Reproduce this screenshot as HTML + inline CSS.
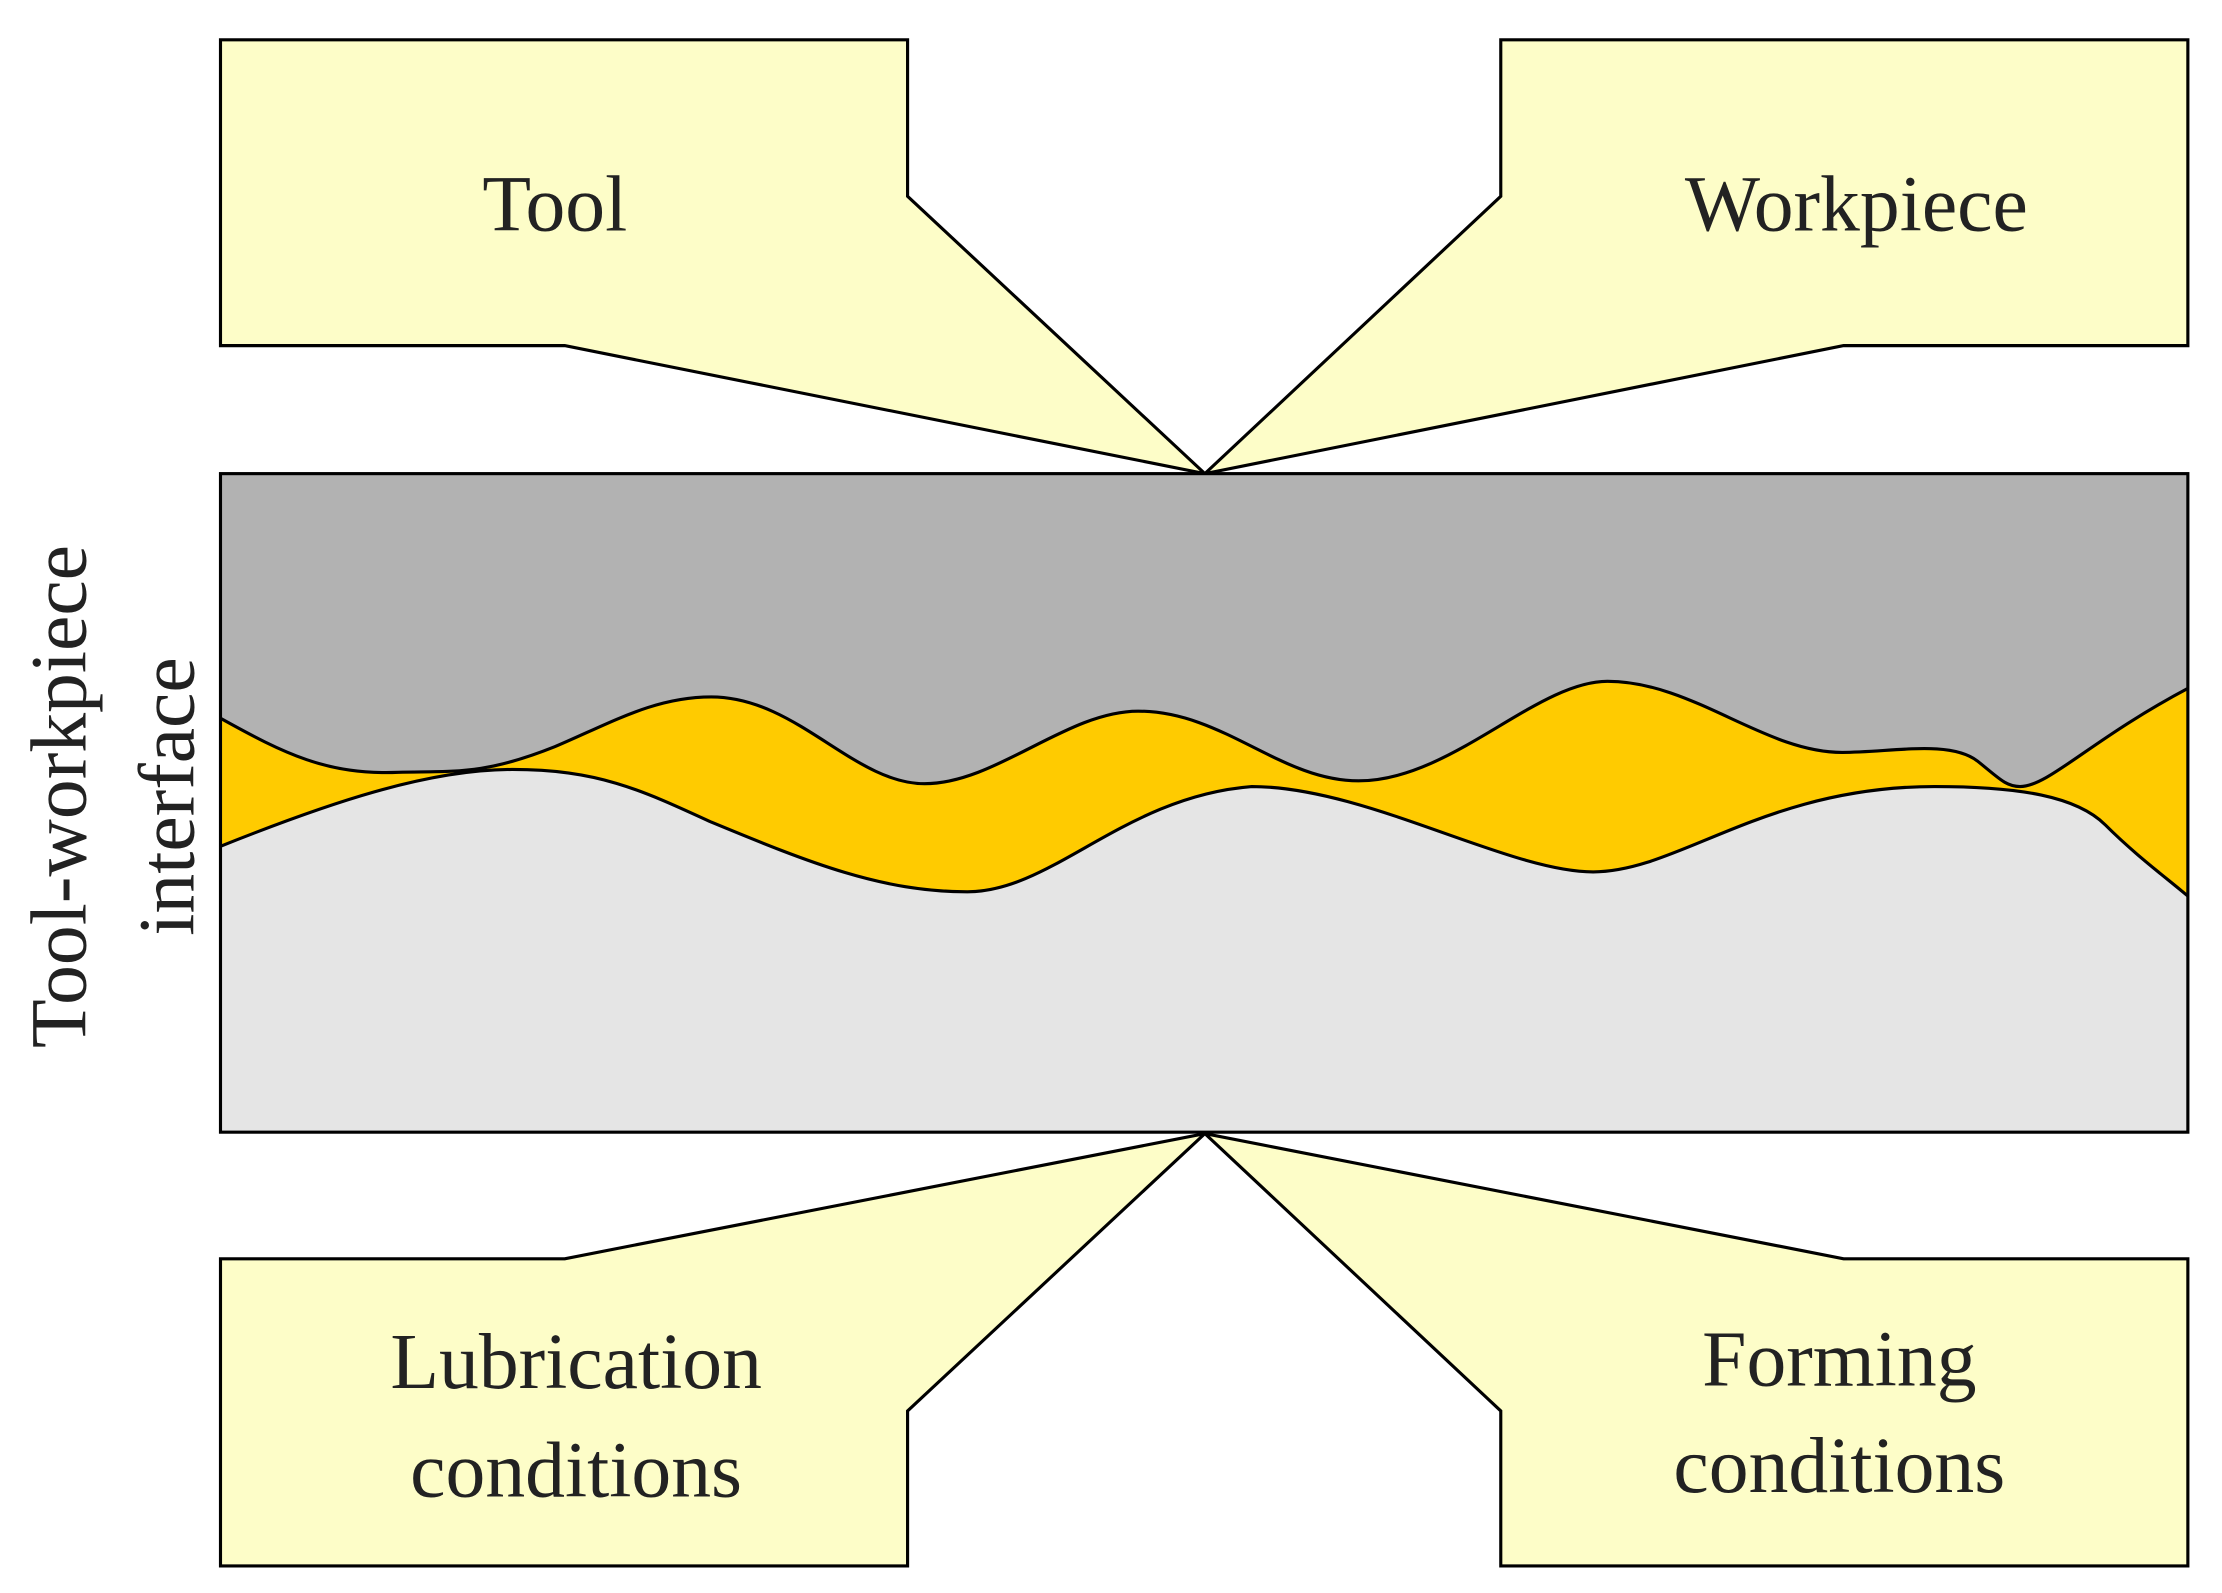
<!DOCTYPE html>
<html><head><meta charset="utf-8"><style>html,body{margin:0;padding:0;background:#fff}svg{display:block}</style></head>
<body>
<svg width="2222" height="1593" viewBox="0 0 1562 1120" preserveAspectRatio="none" xmlns="http://www.w3.org/2000/svg">
<g fill="#fdfdc8" stroke="#000" stroke-width="2.2" stroke-linejoin="miter">
<polygon points="155,28 638,28 638,138 847,333 397,243 155,243"/>
<polygon points="1055,28 1538,28 1538,243 1296,243 847,333 1055,138"/>
<polygon points="155,885 397,885 847,797 638,992 638,1101 155,1101"/>
<polygon points="1055,992 847,797 1296,885 1538,885 1538,1101 1055,1101"/>
</g>
<rect x="155" y="333" width="1383" height="463" fill="#b2b2b2"/>
<path d="M155,505 C200,530 230,545 280,543 C320,542 340,545 390,525 C430,508 460,490 500,490 C560,490 600,551 650,551 C700,551 750,500 800,500 C860,500 900,549 955,549 C1020,549 1080,479 1130,479 C1190,479 1240,529 1295,529 C1330,529 1370,520 1390,535 C1405,547 1410,553 1420,553 C1440,553 1470,520 1538,484 L1538,796 L155,796 Z" fill="#ffcb00" stroke="none"/>
<path d="M155,595 C230,565 300,541 360,541 C420,541 450,555 500,578 C570,607 620,627 680,627 C740,627 790,560 880,553 C960,553 1060,613 1120,613 C1180,613 1240,553 1360,553 C1420,553 1460,560 1480,580 C1500,600 1520,615 1538,630 L1538,796 L155,796 Z" fill="#e5e5e5" stroke="none"/>
<g fill="none" stroke="#000" stroke-width="2.2">
<path d="M155,505 C200,530 230,545 280,543 C320,542 340,545 390,525 C430,508 460,490 500,490 C560,490 600,551 650,551 C700,551 750,500 800,500 C860,500 900,549 955,549 C1020,549 1080,479 1130,479 C1190,479 1240,529 1295,529 C1330,529 1370,520 1390,535 C1405,547 1410,553 1420,553 C1440,553 1470,520 1538,484"/>
<path d="M155,595 C230,565 300,541 360,541 C420,541 450,555 500,578 C570,607 620,627 680,627 C740,627 790,560 880,553 C960,553 1060,613 1120,613 C1180,613 1240,553 1360,553 C1420,553 1460,560 1480,580 C1500,600 1520,615 1538,630"/>
<rect x="155" y="333" width="1383" height="463"/>
</g>
<g font-family="'Liberation Serif', serif" font-size="56" fill="#222" text-anchor="middle">
<text x="390" y="162">Tool</text>
<text x="1305" y="162">Workpiece</text>
<text x="405" y="976">Lubrication</text>
<text x="405" y="1052">conditions</text>
<text x="1293" y="974">Forming</text>
<text x="1293" y="1049">conditions</text>
<text transform="translate(60,560) rotate(-90)">Tool-workpiece</text>
<text transform="translate(136,560) rotate(-90)">interface</text>
</g>
</svg>
</body></html>
